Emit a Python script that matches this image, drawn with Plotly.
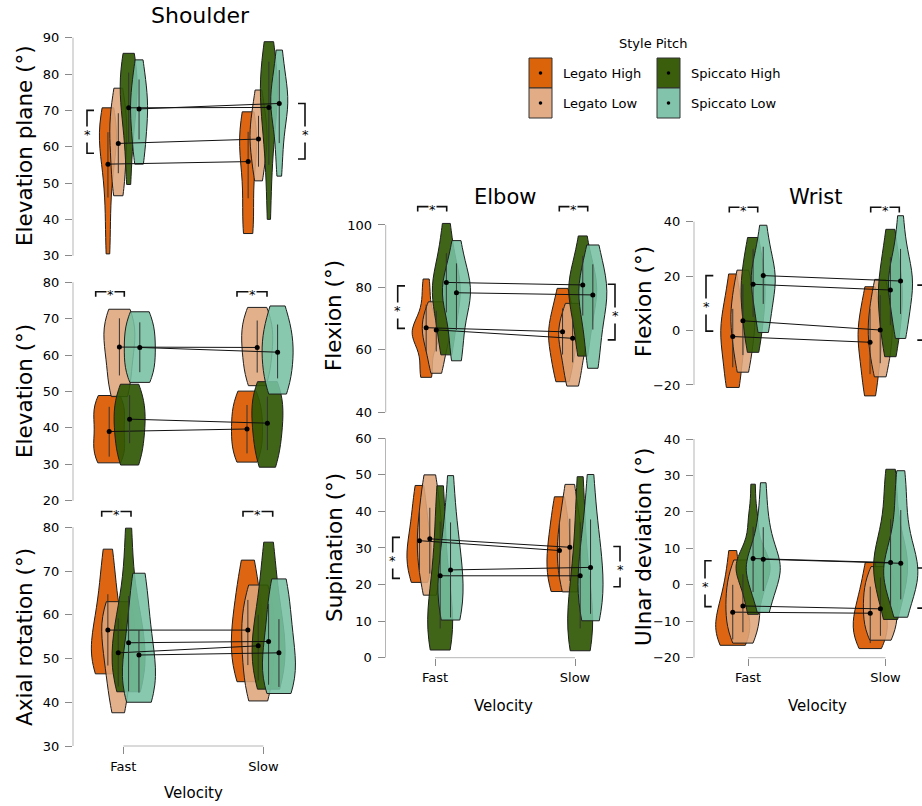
import plotly.graph_objects as go

# ---------------------------------------------------------------- data
GROUPS = ["Legato High", "Legato Low", "Spiccato High", "Spiccato Low"]
VELOCITIES = ["Fast", "Slow"]

# Shoulder - Elevation plane (deg): samples per group, Fast / Slow
EP_FAST = [[30.5, 38, 46, 52, 56, 59, 61, 62.5, 64, 65, 66.5, 68, 70.7],
           [46.5, 48.5, 51, 54, 57, 60, 62, 64, 66, 68, 70, 73, 76.1],
           [49.6, 57, 63, 67, 70, 72, 74, 76, 78, 80, 82, 84, 85.7],
           [55.2, 57, 60, 63, 66, 68, 70, 71.5, 73, 75, 78, 81, 83.9]]
EP_SLOW = [[36.1, 37.5, 39.5, 42, 50, 55, 58, 60, 61.5, 63, 65, 67, 69.6],
           [50.6, 53, 56, 58.5, 60.5, 62, 63.5, 65, 67, 69, 72, 75.6],
           [40, 50, 57, 62, 66, 69, 71, 73, 75, 77, 79, 81, 83, 86, 88.9],
           [51.9, 57, 62, 66, 69, 71, 72, 73, 74.5, 76, 79, 83, 86.6]]
EP_MEAN_FAST = [55.2, 60.9, 70.7, 70.4]
EP_MEAN_SLOW = [55.9, 62.1, 70.8, 71.9]
EP_LO_FAST = [46, 52.7, 60.9, 62]
EP_HI_FAST = [64, 69.2, 80.4, 78.5]
EP_LO_SLOW = [45.8, 54.5, 55, 61]
EP_HI_SLOW = [64.1, 68.5, 83.4, 81.1]

# Shoulder - Elevation (deg)
EL_FAST = [[30.4, 31.5, 33, 34.5, 36, 38, 41, 43, 44.5, 46, 47.5, 48.9],
           [48.6, 50.5, 53, 56, 59.5, 61.5, 63.5, 65.5, 67.5, 69.5, 71, 72.6],
           [29.8, 31.5, 33.5, 36, 38.5, 40.5, 42, 44, 46, 48, 50, 52],
           [52.5, 54, 56, 58, 60, 62, 64, 66, 68, 70, 71.9]]
EL_SLOW = [[30.6, 32, 34, 36, 38, 40, 42, 44, 46, 48, 50.1],
           [51.6, 53.5, 56, 58.5, 61, 63, 65, 67, 69, 71, 73.1],
           [29.2, 31.5, 34, 36.5, 39, 41, 43, 45, 47, 49, 51, 52.7],
           [49.3, 51.5, 54, 56.5, 59, 61, 63, 65, 67.5, 70, 73.5]]
EL_MEAN_FAST = [39, 62.2, 42.4, 62.1]
EL_MEAN_SLOW = [39.7, 62.1, 41.3, 60.8]
EL_LO_FAST = [32.1, 54.4, 35.8, 55.3]
EL_HI_FAST = [45.8, 70.1, 49, 69]
EL_LO_SLOW = [33, 55.2, 33.9, 53.6]
EL_HI_SLOW = [46.3, 69.5, 48.6, 68.4]

# Shoulder - Axial rotation (deg)
AR_FAST = [[46.5, 47.5, 48.5, 50, 51.5, 53, 55, 57, 59.5, 62, 66, 70, 75],
           [37.6, 41, 44, 47, 49.5, 51.5, 53.5, 55.5, 57.5, 59, 60.5, 62, 63],
           [42.4, 43.5, 45, 47, 49, 51, 53, 55, 57, 60, 63, 70, 79.8],
           [40, 41, 42.5, 44, 46, 48, 50, 52.5, 55, 58, 62, 66, 69.5]]
AR_SLOW = [[44.7, 46, 48, 50, 52, 54, 56, 58, 60, 62.5, 65.5, 69, 72.5],
           [40.3, 42, 44.5, 47, 49.5, 52, 54, 56, 58, 60, 62.5, 64.5, 66.8],
           [43, 44.5, 46.5, 48.5, 50.5, 52.5, 54.5, 56.5, 59, 62, 66, 71, 76.6],
           [42, 43, 44.5, 46, 48, 50, 52, 54, 56.5, 59.5, 62.5, 65.5, 68.2]]
AR_MEAN_FAST = [56.5, 51.3, 53.6, 50.8]
AR_MEAN_SLOW = [56.5, 52.9, 53.9, 51.3]
AR_LO_FAST = [48.4, 43.6, 42.5, 42.2]
AR_HI_FAST = [64.7, 59.2, 64.3, 56.5]
AR_LO_SLOW = [48.5, 45, 44, 43.5]
AR_HI_SLOW = [63.4, 60, 62.5, 59]

# Elbow - Flexion (deg)
EF_FAST = [[51.2, 52, 53.5, 58, 62, 63.5, 64.5, 65, 65.5, 66, 67, 68, 70, 74, 79, 82.7],
           [52.5, 55, 58, 61, 63, 64.5, 66, 67, 68.5, 70, 72, 74, 75.4],
           [58.4, 62, 66, 70, 73.5, 76, 78, 79.5, 81, 82.5, 85, 89, 94, 100.5],
           [56.5, 60, 65, 70, 74, 76.5, 78, 79, 80, 82, 85, 89, 95]]
EF_SLOW = [[49.8, 52, 55, 58, 61, 63, 64.5, 66, 67.5, 69.5, 72, 76, 79.7],
           [48.4, 51, 54, 57, 60, 62, 63.5, 65, 66.5, 68, 70, 72.5, 74.9],
           [58, 62, 67, 71, 74, 76.5, 78.5, 80, 81.5, 83.5, 86, 90, 96.5],
           [54.1, 58, 63, 68, 72, 75, 77, 78.5, 80, 82, 85, 89, 93.6]]
EF_MEAN_FAST = [67.1, 66.4, 81.6, 78.3]
EF_MEAN_SLOW = [65.8, 63.7, 80.8, 77.6]
EF_LO_FAST = [59.5, 59.5, 72, 66.4]
EF_HI_FAST = [74.5, 72.5, 91, 87.7]
EF_LO_SLOW = [58.5, 56, 71, 66.5]
EF_HI_SLOW = [73.3, 70.5, 90.1, 87.4]

# Elbow - Supination (deg)
SU_FAST = [[20.6, 22, 24, 25.5, 27, 28.5, 30, 32, 34, 37, 40, 43.5, 47.1],
           [17.1, 20, 23, 26, 28.5, 30.5, 32.5, 34.5, 37, 40, 43.5, 47, 50],
           [2.1, 3, 4.5, 6, 8, 10, 12.5, 15, 18, 22, 27, 33, 40, 47],
           [10.3, 11.5, 13, 15, 17.5, 20, 22.5, 25, 28, 31, 35, 41, 49.8]]
SU_SLOW = [[18.1, 19.5, 21.5, 23.5, 25.5, 27.5, 29.5, 31.5, 34, 37, 40.5, 44],
           [18, 20, 22.5, 25, 27.5, 29.5, 31.5, 33.5, 36, 39, 43, 47.4],
           [1.9, 3, 4.5, 6.5, 8.5, 11, 14, 17, 21, 26, 32, 40, 49.5],
           [10.1, 11.5, 13.5, 16, 18.5, 21, 23.5, 26, 29, 32, 36, 42, 50.1]]
SU_MEAN_FAST = [32, 32.5, 22.4, 24]
SU_MEAN_SLOW = [29.3, 30.2, 22.4, 24.7]
SU_LO_FAST = [24, 23, 8, 11]
SU_HI_FAST = [40, 41, 37.2, 37]
SU_LO_SLOW = [22, 21, 8, 12]
SU_HI_SLOW = [37.5, 38, 37, 37.8]

# Wrist - Flexion (deg)
WF_FAST = [[-20.9, -19.5, -17, -10, -6, -3.5, -1.5, 0.5, 2.5, 5, 9, 14, 20.8],
           [-15.3, -12, -8, -4, -1, 2, 4, 6, 8.5, 11.5, 15, 19, 22.2],
           [-8, -4, 0, 4, 8, 11, 13.5, 16, 18.5, 21.5, 25, 30, 34.2],
           [-0.7, 2.5, 6.5, 10.5, 14, 16.5, 18.5, 20, 21.5, 23.5, 27, 32, 38.7]]
WF_SLOW = [[-24, -21, -17, -12, -8, -5, -3, -1, 1, 3.5, 7, 11.5, 16.1],
           [-17, -14, -10, -7, -4, -1.5, 0.5, 2.5, 5, 8, 11.5, 15, 18.8],
           [-9.6, -5, -1, 3, 7, 10, 13, 15.5, 18, 21, 25, 31, 37.2],
           [-2.9, 1, 5, 9, 12.5, 15.5, 17.5, 19, 20.5, 23, 27, 33, 42.2]]
WF_MEAN_FAST = [-2.2, 3.6, 17, 20.2]
WF_MEAN_SLOW = [-4.3, 0.2, 14.9, 18.2]
WF_LO_FAST = [-13.5, -9, 5, 9.8]
WF_HI_FAST = [8, 17, 30, 30.8]
WF_LO_SLOW = [-16, -12, 2, 6.1]
WF_HI_SLOW = [8, 13, 27, 30]

# Wrist - Ulnar deviation (deg)
UD_FAST = [[-16.6, -15.5, -14.5, -13, -11.5, -10, -8.5, -6.5, -4, -1, 3, 9.4],
           [-16, -14, -12, -10, -8, -6, -4, -2, 0, 2, 4.5, 6.8],
           [-8.1, -6, -3, -1, 1, 2.5, 3.5, 4.5, 5, 5.5, 6.5, 7.5, 9, 11, 17.5, 18.5, 27.6],
           [-7.6, -5, -2, 0, 2, 3, 4, 5, 5.5, 6.5, 8, 10, 13, 16, 21, 28]]
UD_SLOW = [[-17.5, -16, -14.5, -13, -11.5, -10, -8.5, -6.5, -4.5, -2, 1.5, 6.1],
           [-15.2, -13.5, -11.5, -9.5, -7.5, -5.5, -3.5, -1.5, 0.5, 2.5, 5],
           [-9.5, -7, -4, -1.5, 0.5, 2, 3.5, 5, 6, 7, 8.5, 10, 12, 15, 19, 24, 29, 31.7],
           [-8.9, -6, -3, -0.5, 1, 2, 3, 4, 5, 6.5, 8, 10, 13, 17, 22, 27, 31.3]]
UD_MEAN_FAST = [-7.5, -5.8, 7.2, 7]
UD_MEAN_SLOW = [-7.8, -6.6, 6.1, 5.9]
UD_LO_FAST = [-15, -13, -2, -1.7]
UD_HI_FAST = [0, 2.9, 15.9, 15.8]
UD_LO_SLOW = [-16, -14, -6, -4]
UD_HI_SLOW = [-0.5, 2, 18, 20.5]

# tick values per panel
EP_TICKS = [30, 40, 50, 60, 70, 80, 90]
EL_TICKS = [20, 30, 40, 50, 60, 70, 80]
AR_TICKS = [30, 40, 50, 60, 70, 80]
EF_TICKS = [40, 60, 80, 100]
SU_TICKS = [0, 10, 20, 30, 40, 50, 60]
WF_TICKS = [-20, 0, 20, 40]
UD_TICKS = [-20, -10, 0, 10, 20, 30, 40]

# ---------------------------------------------------------------- style / layout
W, H = 922, 806
FONT = "DejaVu Sans"
FILL = ["rgba(220,90,0,0.93)", "rgba(222,165,122,0.88)",
        "rgba(48,88,4,0.92)", "rgba(118,192,163,0.88)"]
SOLID = ["#DB6309", "#E1AC86", "#3A5E0B", "#82C4AB"]
OFFSETS = [-0.111, -0.037, 0.037, 0.111]

PANELS = [
    dict(fast=EP_FAST, slow=EP_SLOW, mf=EP_MEAN_FAST, ms=EP_MEAN_SLOW,
         lf=EP_LO_FAST, hf=EP_HI_FAST, ls=EP_LO_SLOW, hs=EP_HI_SLOW, ticks=EP_TICKS,
         ypx=((90, 37.7), (30, 255.7)), yr=(27, 93), xpx=(73, 320), cat=(123.5, 263.7),
         vw=17, bottom=False, top=[],
         side=[(87, 94, 70, 58.2), (305, 298, 71.9, 56.6)]),
    dict(fast=EL_FAST, slow=EL_SLOW, mf=EL_MEAN_FAST, ms=EL_MEAN_SLOW,
         lf=EL_LO_FAST, hf=EL_HI_FAST, ls=EL_LO_SLOW, hs=EL_HI_SLOW, ticks=EL_TICKS,
         ypx=((80, 282.3), (20, 500.7)), yr=(18, 82), xpx=(73, 320), cat=(124.5, 262.3),
         vw=31, bottom=False, top=[(95.7, 124.3, 77.4, 76.0), (237, 267, 77.4, 76.0)],
         side=[]),
    dict(fast=AR_FAST, slow=AR_SLOW, mf=AR_MEAN_FAST, ms=AR_MEAN_SLOW,
         lf=AR_LO_FAST, hf=AR_HI_FAST, ls=AR_LO_SLOW, hs=AR_HI_SLOW, ticks=AR_TICKS,
         ypx=((80, 527.3), (30, 746)), yr=(30, 85), xpx=(73, 320), cat=(123.4, 263.4),
         vw=33, bottom=True, top=[(101.7, 131, 83.6, 82.4), (243, 272.7, 83.6, 82.4)],
         side=[]),
    dict(fast=EF_FAST, slow=EF_SLOW, mf=EF_MEAN_FAST, ms=EF_MEAN_SLOW,
         lf=EF_LO_FAST, hf=EF_HI_FAST, ls=EF_LO_SLOW, hs=EF_HI_SLOW, ticks=EF_TICKS,
         ypx=((100, 225), (40, 412.3)), yr=(38, 108), xpx=(385.7, 630), cat=(441.3, 577.7),
         vw=28, bottom=False, top=[(417.7, 446.7, 105.9, 104.3), (559.3, 587.7, 105.9, 104.3)],
         side=[(397.7, 405, 80.5, 66.9), (615, 607.7, 81, 63.2)]),
    dict(fast=SU_FAST, slow=SU_SLOW, mf=SU_MEAN_FAST, ms=SU_MEAN_SLOW,
         lf=SU_LO_FAST, hf=SU_HI_FAST, ls=SU_LO_SLOW, hs=SU_HI_SLOW, ticks=SU_TICKS,
         ypx=((60, 438.3), (0, 657.7)), yr=(0, 62), xpx=(385.5, 630), cat=(435, 575),
         vw=25, bottom=True, top=[],
         side=[(392.7, 400, 32.9, 21.7), (620, 613.3, 30.4, 19.4)]),
    dict(fast=WF_FAST, slow=WF_SLOW, mf=WF_MEAN_FAST, ms=WF_MEAN_SLOW,
         lf=WF_LO_FAST, hf=WF_HI_FAST, ls=WF_LO_SLOW, hs=WF_HI_SLOW, ticks=WF_TICKS,
         ypx=((40, 221.7), (-20, 385)), yr=(-26, 48), xpx=(694, 922), cat=(748, 885.3),
         vw=24, bottom=False, top=[(729.3, 757.7, 45.3, 43.4), (870.7, 899.3, 45.3, 43.4)],
         side=[(706, 713.3, 20.2, -0.2), (930, 917.3, 16.7, -3.5)]),
    dict(fast=UD_FAST, slow=UD_SLOW, mf=UD_MEAN_FAST, ms=UD_MEAN_SLOW,
         lf=UD_LO_FAST, hf=UD_HI_FAST, ls=UD_LO_SLOW, hs=UD_HI_SLOW, ticks=UD_TICKS,
         ypx=((40, 439), (-20, 657.7)), yr=(-20, 42), xpx=(694, 922), cat=(748, 885.5),
         vw=34, bottom=True, top=[],
         side=[(705, 711.7, 6.6, -6.0), (930, 917.3, 4.6, -6.4)]),
]

AXIS_COLOR = "#b5b5b5"
TICK_COLOR = "#8a8a8a"
TXT = "#000000"

fig = go.Figure()
shapes, annotations, axes = [], [], {}

for k, p in enumerate(PANELS, start=1):
    sfx = "" if k == 1 else str(k)
    xn, yn = "x" + sfx, "y" + sfx
    f_px, s_px = p["cat"]
    sp = s_px - f_px
    ax_px, right_px = p["xpx"]

    def X(px, f_px=f_px, sp=sp):
        return (px - f_px) / sp

    (v1, p1), (v2, p2) = p["ypx"]
    scale = (p2 - p1) / (v1 - v2)
    lo, hi = p["yr"]
    p_hi = p1 - (hi - v1) * scale
    p_lo = p2 + (v2 - lo) * scale
    axes["xaxis" + sfx] = dict(
        domain=[ax_px / W, min(right_px / W, 1)], range=[X(ax_px), X(right_px)],
        anchor=yn, showgrid=False, zeroline=False, showline=False, automargin=False,
        tickmode="array", tickvals=[0, 1], ticktext=VELOCITIES,
        ticks="outside" if p["bottom"] else "", ticklen=7, tickwidth=1, tickcolor=TICK_COLOR,
        ticklabelstandoff=1,
        showticklabels=p["bottom"], tickfont=dict(family=FONT, size=13, color=TXT))
    axes["yaxis" + sfx] = dict(
        domain=[1 - p_lo / H, 1 - p_hi / H], range=[lo, hi], anchor=xn, automargin=False,
        showgrid=False, zeroline=False, showline=False,
        tickmode="array", tickvals=p["ticks"], ticks="outside", ticklen=7, tickwidth=1,
        tickcolor=TICK_COLOR, ticklabelstandoff=3,
        tickfont=dict(family=FONT, size=13, color=TXT))

    # axis lines limited to tick range
    shapes.append(dict(type="line", xref=xn + " domain", x0=0, x1=0, yref=yn,
                       y0=min(p["ticks"]), y1=max(p["ticks"]),
                       line=dict(color=AXIS_COLOR, width=1)))
    if p["bottom"]:
        shapes.append(dict(type="line", xref=xn, x0=0, x1=1, yref=yn + " domain",
                           y0=0, y1=0, line=dict(color=AXIS_COLOR, width=1)))

    # violins
    vw = p["vw"] / sp
    for vi, samples in enumerate((p["fast"], p["slow"])):
        for g in range(4):
            s = samples[g]
            fig.add_trace(go.Violin(
                x=[vi + OFFSETS[g]] * len(s), y=s, xaxis=xn, yaxis=yn,
                width=vw, scalegroup="p%d" % k, scalemode="width", spanmode="hard",
                points=False, fillcolor=FILL[g], line=dict(color="#1e1e1e", width=1),
                name=GROUPS[g], showlegend=False, hoverinfo="skip"))

    # means, error bars and connecting lines
    for g in range(4):
        mf, ms = p["mf"][g], p["ms"][g]
        fig.add_trace(go.Scatter(
            x=[0 + OFFSETS[g], 1 + OFFSETS[g]], y=[mf, ms], xaxis=xn, yaxis=yn,
            mode="lines+markers", line=dict(color="#111", width=1),
            marker=dict(color="#000", size=5),
            error_y=dict(type="data", symmetric=False,
                         array=[p["hf"][g] - mf, p["hs"][g] - ms],
                         arrayminus=[mf - p["lf"][g], ms - p["ls"][g]],
                         width=0, thickness=1, color="#333"),
            showlegend=False, hoverinfo="skip"))

    # significance brackets
    for (x0, x1, yl, yt) in p["top"]:
        shapes.append(dict(type="path", xref=xn, yref=yn,
                           path="M %f,%f L %f,%f L %f,%f L %f,%f" % (
                               X(x0), yt, X(x0), yl, X(x1), yl, X(x1), yt),
                           line=dict(color="#111", width=1.6)))
        annotations.append(dict(xref=xn, yref=yn, x=X((x0 + x1) / 2), y=yl, text="*",
                                showarrow=False, bgcolor="white", borderpad=0, yshift=-3,
                                font=dict(family=FONT, size=13, color=TXT)))
    for (xl, xt, ytop, ybot) in p["side"]:
        shapes.append(dict(type="path", xref=xn, yref=yn,
                           path="M %f,%f L %f,%f L %f,%f L %f,%f" % (
                               X(xt), ytop, X(xl), ytop, X(xl), ybot, X(xt), ybot),
                           line=dict(color="#111", width=1.6)))
        if xl < W:
            annotations.append(dict(xref=xn, yref=yn, x=X(xl), y=(ytop + ybot) / 2, text="*",
                                    showarrow=False, bgcolor="white", borderpad=0, yshift=-3,
                                    font=dict(family=FONT, size=13, color=TXT)))


def ann(text, px, py, size, angle=0, xanchor="center"):
    annotations.append(dict(xref="paper", yref="paper", x=px / W, y=1 - py / H, text=text,
                            showarrow=False, textangle=angle, xanchor=xanchor, yanchor="middle",
                            font=dict(family=FONT, size=size, color=TXT)))


ann("Shoulder", 200, 16, 22)
ann("Elbow", 505, 197, 21)
ann("Wrist", 815, 197, 21)
ann("Elevation plane (°)", 24, 146, 21.5, -90)
ann("Elevation (°)", 24, 391, 21.5, -90)
ann("Axial rotation (°)", 24, 637, 21.5, -90)
ann("Flexion (°)", 334, 316, 21.5, -90)
ann("Supination (°)", 334, 548, 21.5, -90)
ann("Flexion (°)", 643, 302, 21.5, -90)
ann("Ulnar deviation (°)", 643, 547, 21.5, -90)
ann("Velocity", 193, 793, 15)
ann("Velocity", 504, 706, 15)
ann("Velocity", 817, 706, 15)

# legend
ann("Style Pitch", 653, 44, 13)
LEG_POS = [(529, 58), (529, 88), (657, 58), (657, 88)]
for g, (lx, ly) in enumerate(LEG_POS):
    shapes.append(dict(type="rect", xref="paper", yref="paper",
                       x0=lx / W, x1=(lx + 23) / W, y0=1 - (ly + 30) / H, y1=1 - ly / H,
                       fillcolor=SOLID[g], line=dict(color="#333", width=1)))
    cx, cy = lx + 11.5, ly + 15
    shapes.append(dict(type="circle", xref="paper", yref="paper",
                       x0=(cx - 1.8) / W, x1=(cx + 1.8) / W, y0=1 - (cy + 1.8) / H,
                       y1=1 - (cy - 1.8) / H, fillcolor="#000", line=dict(width=0)))
    ann(GROUPS[g], lx + 32, cy, 13, 0, "left")

fig.update_layout(template="none", width=W, height=H, autosize=False,
                  margin=dict(l=0, r=0, t=0, b=0, pad=0),
                  paper_bgcolor="white", plot_bgcolor="rgba(0,0,0,0)",
                  violinmode="overlay", hovermode=False, showlegend=False,
                  shapes=shapes, annotations=annotations, **axes)

fig.write_html("out.html", config={"displayModeBar": False, "responsive": False},
               post_script="document.body.style.margin='0';document.body.style.overflow='hidden';")
